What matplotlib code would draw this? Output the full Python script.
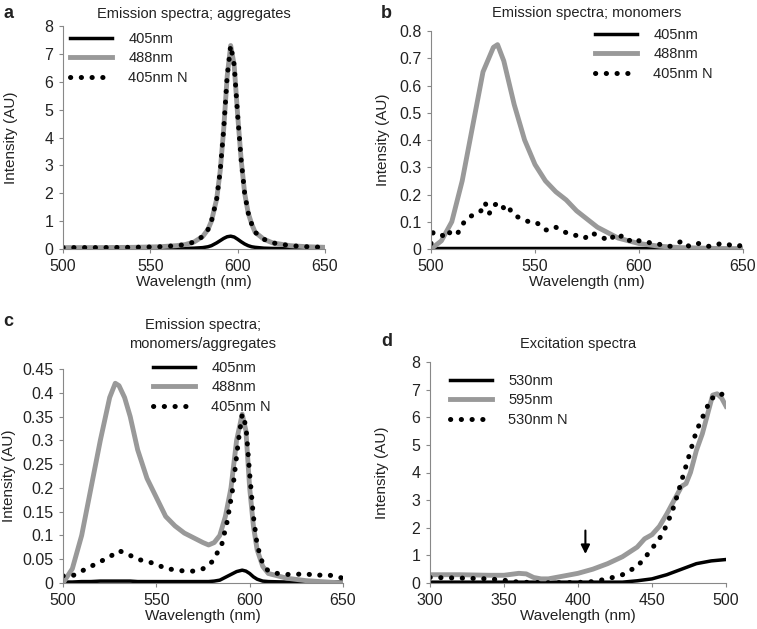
import numpy as np
import matplotlib
matplotlib.use("Agg")
import matplotlib.pyplot as plt

plt.rcParams['font.family'] = ['Liberation Sans', 'DejaVu Sans']
plt.rcParams['font.size'] = 10
plt.rcParams['text.color'] = '#222222'
plt.rcParams['axes.labelcolor'] = '#222222'
plt.rcParams['xtick.labelcolor'] = '#222222'
plt.rcParams['ytick.labelcolor'] = '#222222'

# panel a: emission, aggregates
wl_a = [500, 520, 540, 555, 565, 570, 575, 580, 583, 585, 588, 590, 592, 594, 596,
        598, 600, 602, 604, 606, 608, 610, 615, 620, 630, 640, 650]
a_488 = [0.05, 0.05, 0.06, 0.08, 0.12, 0.16, 0.25, 0.45, 0.7, 1.0, 1.8, 2.8, 4.3, 6.2, 7.3,
         6.6, 4.8, 3.2, 2.0, 1.3, 0.9, 0.6, 0.35, 0.22, 0.12, 0.08, 0.06]
a_405 = [0.02, 0.02, 0.02, 0.02, 0.02, 0.02, 0.03, 0.05, 0.08, 0.12, 0.22, 0.3, 0.38, 0.44, 0.46,
         0.43, 0.35, 0.26, 0.18, 0.12, 0.08, 0.06, 0.03, 0.02, 0.02, 0.02, 0.02]
a_405n = a_488

# panel b: emission, monomers
wl_b = [500, 505, 510, 515, 520, 525, 530, 532, 535, 540, 545, 550, 555, 560, 565,
        570, 575, 580, 585, 590, 595, 600, 610, 620, 650]
b_488 = [0.0, 0.03, 0.1, 0.25, 0.45, 0.65, 0.74, 0.75, 0.69, 0.53, 0.4, 0.31, 0.25, 0.21, 0.18,
         0.14, 0.11, 0.08, 0.06, 0.04, 0.03, 0.02, 0.01, 0.005, 0.0]
b_405 = [0.005] * len(wl_b)
wl_bn = [500, 501, 504, 507, 510, 513, 516, 519, 522, 524, 526, 528, 530, 533, 535, 537, 539,
         541, 544, 547, 550, 552, 555, 558, 560, 562, 565, 568, 571, 574, 577, 580, 583, 586,
         588, 590, 592, 595, 598, 600, 603, 606, 609, 612, 615, 618, 621, 624, 627, 630, 633,
         636, 639, 642, 645, 648, 650]
b_405n = [0.02, 0.06, 0.06, 0.04, 0.07, 0.06, 0.1, 0.12, 0.13, 0.14, 0.17, 0.13, 0.16, 0.17,
          0.15, 0.16, 0.13, 0.12, 0.11, 0.1, 0.1, 0.09, 0.07, 0.07, 0.08, 0.07, 0.06, 0.05, 0.05,
          0.04, 0.06, 0.05, 0.04, 0.03, 0.05, 0.04, 0.05, 0.03, 0.04, 0.03, 0.03, 0.02, 0.02,
          0.01, 0.01, 0.02, 0.03, 0.01, 0.02, 0.02, 0.01, 0.01, 0.02, 0.02, 0.01, 0.01, 0.02]

# panel c: emission, monomers/aggregates
wl_c = [500, 505, 510, 515, 520, 525, 528, 530, 533, 536, 540, 545, 550, 555, 560, 565, 570,
        575, 578, 581, 584, 587, 590, 593, 596, 598, 600, 602, 604, 607, 610, 620, 630, 650]
c_488 = [0.0, 0.03, 0.1, 0.2, 0.3, 0.39, 0.42, 0.415, 0.39, 0.35, 0.28, 0.22, 0.18, 0.14, 0.12,
         0.105, 0.095, 0.085, 0.08, 0.085, 0.1, 0.14, 0.2, 0.3, 0.355, 0.32, 0.2, 0.12, 0.07,
         0.035, 0.02, 0.01, 0.005, 0.0]
c_405 = [0.002, 0.002, 0.003, 0.003, 0.004, 0.004, 0.004, 0.004, 0.004, 0.004, 0.003, 0.003,
         0.003, 0.003, 0.003, 0.003, 0.003, 0.003, 0.003, 0.004, 0.006, 0.012, 0.018, 0.024,
         0.027, 0.025, 0.02, 0.013, 0.008, 0.004, 0.003, 0.002, 0.002, 0.002]
wl_cn = [500, 505, 510, 515, 520, 525, 530, 535, 540, 545, 550, 555, 560, 565, 570, 575, 580,
         585, 588, 591, 594, 596, 598, 600, 602, 604, 607, 610, 615, 620, 625, 630, 635, 640,
         645, 650]
c_405n = [0.015, 0.015, 0.025, 0.035, 0.045, 0.055, 0.068, 0.06, 0.05, 0.045, 0.04, 0.03,
          0.028, 0.025, 0.025, 0.03, 0.045, 0.08, 0.13, 0.2, 0.3, 0.355, 0.33, 0.23, 0.14,
          0.08, 0.04, 0.025, 0.02, 0.018, 0.018, 0.02, 0.015, 0.018, 0.015, 0.01]

# panel d: excitation
wl_d = [300, 320, 340, 350, 360, 365, 370, 375, 380, 390, 400, 410, 420, 430, 440, 445,
        450, 455, 460, 465, 470, 473, 476, 480, 484, 488, 491, 494, 497, 500]
d_595 = [0.3, 0.3, 0.28, 0.28, 0.35, 0.33, 0.2, 0.15, 0.15, 0.25, 0.35, 0.5, 0.7, 0.95, 1.3,
         1.6, 1.75, 2.05, 2.5, 3.0, 3.5, 3.6, 4.0, 4.8, 5.4, 6.2, 6.8, 6.85, 6.7, 6.4]
wl_dn = [300, 320, 340, 350, 360, 370, 380, 400, 410, 420, 430, 440, 445, 450, 455, 460, 465,
         470, 475, 480, 485, 490, 495, 500]
d_530n = [0.2, 0.18, 0.15, 0.1, 0.03, 0.02, 0.01, 0.02, 0.05, 0.15, 0.3, 0.6, 0.9, 1.25, 1.6,
          2.1, 2.8, 3.7, 4.6, 5.5, 6.1, 6.7, 6.7, 7.0]
wl_d530 = [300, 350, 400, 430, 440, 450, 460, 470, 480, 490, 500]
d_530 = [0.03, 0.03, 0.03, 0.03, 0.08, 0.15, 0.3, 0.5, 0.7, 0.8, 0.85]

W, H = 757, 629
fig = plt.figure(figsize=(W / 100, H / 100), dpi=100)


def make_ax(l, r, t, b, ylab_off):
    ax = fig.add_axes([l / W, 1 - b / H, (r - l) / W, (b - t) / H])
    for s in ['top', 'right']:
        ax.spines[s].set_visible(False)
    for s in ['left', 'bottom']:
        ax.spines[s].set_color('#888888')
    ax.tick_params(direction='out', length=3, color='#888888', labelsize=11.5)
    ax.tick_params(axis='x', pad=4)
    ax.tick_params(axis='y', pad=4)
    ax.set_xlabel("Wavelength (nm)", fontsize=11, labelpad=1)
    ax.set_ylabel("Intensity (AU)", fontsize=11)
    ax.yaxis.set_label_coords(-ylab_off / (r - l), 0.5)
    return ax


def draw(ax, x1, y1, x2, y2, x3, y3, labels):
    ax.plot(x1, y1, color='black', lw=2.5, label=labels[0])
    ax.plot(x2, y2, color='#999999', lw=3.5, label=labels[1])
    ax.plot(x3, y3, color='black', lw=3.6, ls=(0, (0.05, 2.1)),
            dash_capstyle='round', label=labels[2])


def add_legend(ax, px, py):
    ax.legend(loc='upper left', bbox_to_anchor=(px / W, 1 - py / H),
              bbox_transform=fig.transFigure, frameon=False, fontsize=10.5,
              handlelength=2.9, handletextpad=1.1, labelspacing=0.37, borderaxespad=0)


em_labels = ["405nm", "488nm", "405nm N"]

ax = make_ax(63, 325, 26, 249, 45)
draw(ax, wl_a, a_405, wl_a, a_488, wl_a, a_405n, em_labels)
ax.set_xlim(500, 650)
ax.set_ylim(0, 8)
ax.set_xticks([500, 550, 600, 650])
ax.set_yticks(range(0, 9))
ax.set_title("Emission spectra; aggregates", fontsize=10.5, pad=6)
add_legend(ax, 64, 26)
fig.text(3 / W, 1 - 14 / H, "a", fontsize=13, fontweight='bold', va='center')

ax = make_ax(431, 743, 31, 249, 41)
draw(ax, wl_b, b_405, wl_b, b_488, wl_bn, b_405n, em_labels)
ax.set_xlim(500, 650)
ax.set_ylim(0, 0.8)
ax.set_xticks([500, 550, 600, 650])
ax.set_yticks(np.arange(0, 0.81, 0.1))
ax.set_yticklabels(["0", "0.1", "0.2", "0.3", "0.4", "0.5", "0.6", "0.7", "0.8"])
ax.set_title("Emission spectra; monomers", fontsize=10.5, pad=10)
add_legend(ax, 589, 22)
fig.text(381 / W, 1 - 14 / H, "b", fontsize=13, fontweight='bold', va='center')

ax = make_ax(63, 343, 369, 583, 47)
draw(ax, wl_c, c_405, wl_c, c_488, wl_cn, c_405n, em_labels)
ax.set_xlim(500, 650)
ax.set_ylim(0, 0.45)
ax.set_xticks([500, 550, 600, 650])
ax.set_yticks(np.arange(0, 0.451, 0.05))
ax.set_yticklabels(["0", "0.05", "0.1", "0.15", "0.2", "0.25", "0.3", "0.35", "0.4", "0.45"])
ax.set_title("Emission spectra;\nmonomers/aggregates", fontsize=10.5, pad=15, linespacing=1.5)
add_legend(ax, 147, 355)
fig.text(3 / W, 1 - 322 / H, "c", fontsize=13, fontweight='bold', va='center')

ax = make_ax(430, 726, 362, 583, 41)
draw(ax, wl_d530, d_530, wl_d, d_595, wl_dn, d_530n, ["530nm", "595nm", "530nm N"])
ax.set_xlim(300, 500)
ax.set_ylim(0, 8)
ax.set_xticks([300, 350, 400, 450, 500])
ax.set_yticks(range(0, 9))
ax.set_title("Excitation spectra", fontsize=10.5, pad=10)
add_legend(ax, 444, 368)
ax.annotate("", xy=(405, 0.95), xytext=(405, 2.0),
            arrowprops=dict(arrowstyle='-|>', color='black', lw=1.5, mutation_scale=13))
fig.text(381 / W, 1 - 342 / H, "d", fontsize=13, fontweight='bold', va='center')

fig.savefig("out.png", dpi=100)
